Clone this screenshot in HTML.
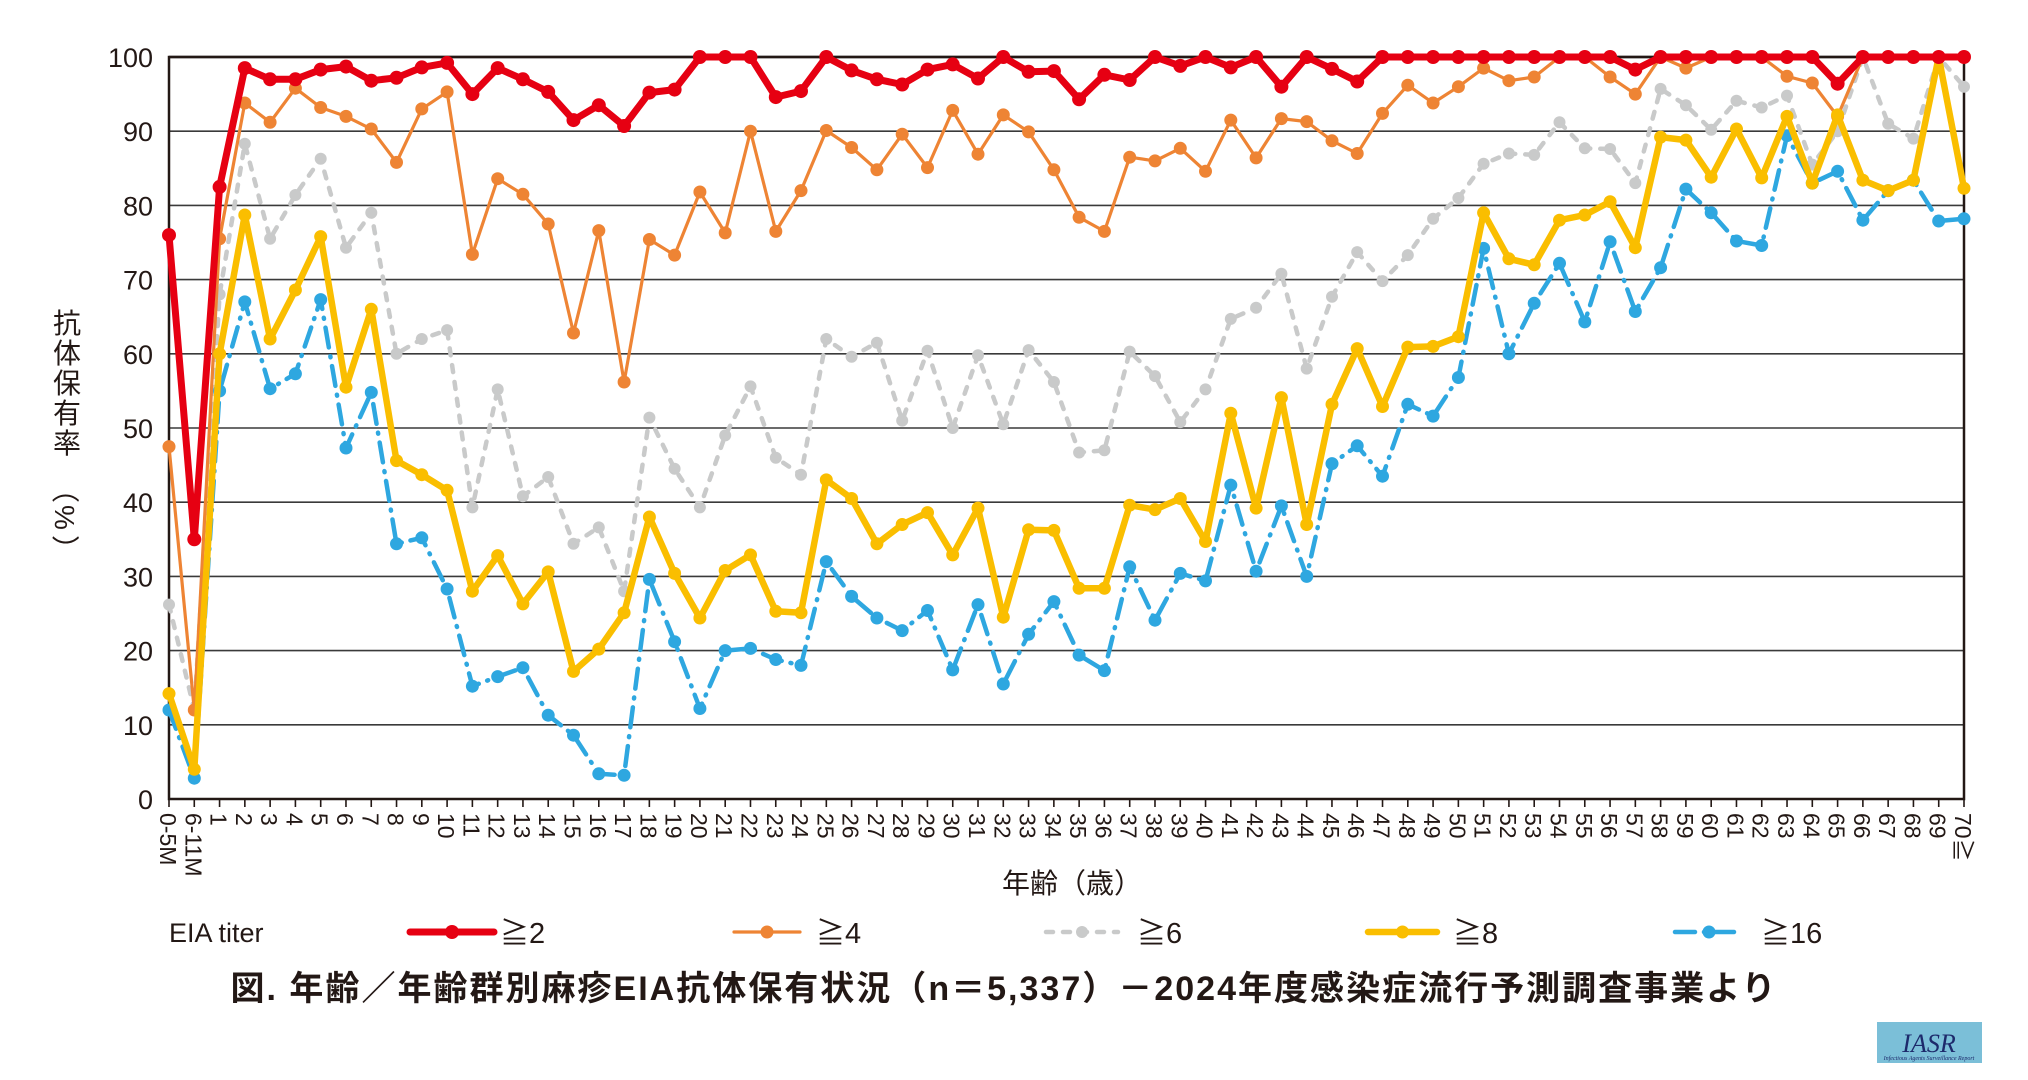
<!DOCTYPE html>
<html><head><meta charset="utf-8"><style>
html,body{margin:0;padding:0;background:#fff;}
svg{display:block;font-family:"Liberation Sans","Noto Sans CJK JP",sans-serif;}
</style></head><body>
<svg id="s" width="2028" height="1080" viewBox="0 0 2028 1080" xmlns="http://www.w3.org/2000/svg"></svg>
<script>
const S=document.getElementById('s');
const L=169,R=1964,T=57,B=799;
const N=72,dx=(R-L)/(N-1);
const X=i=>L+i*dx, Y=v=>B-(B-T)*v/100;
let h='';
// grid
for(let v=10;v<=100;v+=10){h+=`<line x1="${L}" x2="${R}" y1="${Y(v)}" y2="${Y(v)}" stroke="#3a3a3a" stroke-width="${v==100?2.5:1.6}"/>`;}
for(let v=0;v<=100;v+=10){h+=`<text x="153" y="${Y(v)+10}" font-size="27" text-anchor="end" fill="#231815">${v}</text>`;}
h+=`<rect x="${L}" y="${T}" width="${R-L}" height="${B-T}" fill="none" stroke="#231815" stroke-width="2.5"/>`;
const labs=['0-5M','6-11M'];for(let i=1;i<=70;i++)labs.push(i==70?'70≧':String(i));
for(let i=0;i<N;i++){const x=X(i);h+=`<line x1="${x}" x2="${x}" y1="${B}" y2="${B+8}" stroke="#231815" stroke-width="1.6"/>`;
h+=`<text transform="translate(${x-9},${B+14}) rotate(90)" font-size="23" fill="#231815">${labs[i]}</text>`;}
const d={
red:[76,35,82.5,98.5,97,97,98.3,98.7,96.8,97.2,98.6,99.2,95,98.5,97,95.3,91.5,93.5,90.7,95.2,95.6,100,100,100,94.6,95.4,100,98.2,97,96.3,98.3,99,97.1,100,98,98.1,94.3,97.6,96.9,100,98.8,100,98.6,100,96,100,98.4,96.7,100,100,100,100,100,100,100,100,100,100,98.3,100,100,100,100,100,100,100,96.4,100,100,100,100,100],
org:[47.5,12,75.5,93.8,91.2,95.8,93.2,92,90.3,85.8,93,95.3,73.4,83.6,81.5,77.5,62.8,76.6,56.2,75.4,73.3,81.8,76.3,90,76.5,82,90.1,87.8,84.8,89.6,85.1,92.8,86.9,92.2,89.9,84.8,78.4,76.5,86.5,86,87.7,84.6,91.5,86.4,91.7,91.3,88.7,87,92.4,96.2,93.8,96,98.5,96.8,97.3,100,100,97.3,95,100,98.5,100,100,100,97.4,96.5,92,100,100,100,100,100],
gry:[26.2,12,68,88.3,75.5,81.4,86.3,74.3,79,60,62,63.2,39.3,55.2,40.8,43.4,34.4,36.6,28,51.4,44.5,39.3,49,55.6,46,43.7,62,59.6,61.5,51,60.4,50,59.8,50.5,60.5,56.2,46.7,47,60.3,57,50.8,55.2,64.7,66.2,70.8,58,67.7,73.7,69.8,73.3,78.2,81,85.6,87,86.8,91.2,87.7,87.6,83,95.7,93.5,90.2,94.1,93.2,94.8,85.5,90,100,91,89,100,96],
yel:[14.2,4,60,78.7,62,68.6,75.8,55.5,66,45.6,43.7,41.6,28,32.8,26.3,30.6,17.2,20.2,25.1,38,30.4,24.4,30.8,32.9,25.3,25.1,43,40.5,34.4,37,38.6,32.9,39.2,24.5,36.3,36.2,28.4,28.4,39.6,39,40.5,34.7,52,39.2,54.1,37,53.2,60.7,52.9,60.9,61,62.3,79,72.8,72,78,78.7,80.5,74.3,89.2,88.8,83.8,90.3,83.7,92,83,92.2,83.4,82,83.4,100,82.3],
blu:[12,2.8,55,67,55.3,57.3,67.3,47.3,54.8,34.4,35.2,28.3,15.2,16.5,17.7,11.3,8.6,3.4,3.2,29.6,21.2,12.2,20,20.3,18.8,18,32,27.3,24.4,22.7,25.4,17.4,26.2,15.5,22.2,26.6,19.4,17.3,31.3,24.1,30.4,29.4,42.3,30.7,39.5,30,45.2,47.6,43.5,53.2,51.6,56.8,74.2,60,66.8,72.2,64.3,75.1,65.7,71.6,82.2,79,75.2,74.6,89.4,83,84.6,78,82,83.4,77.9,78.2]};
const st={
gry:{c:'#c9caca',w:4.5,r:6,da:'7 10'},
blu:{c:'#2ea7e0',w:4.5,r:6.5,da:'20 9 1 9'},
org:{c:'#ee8434',w:3.2,r:6.5,da:''},
yel:{c:'#fabe00',w:6.5,r:6.5,da:''},
red:{c:'#e60012',w:7,r:7,da:''}};
for(const k of ['gry','blu','org','yel','red']){const s=st[k],a=d[k];
h+=`<polyline fill="none" stroke="${s.c}" stroke-width="${s.w}" stroke-linejoin="round" stroke-linecap="round" ${s.da?`stroke-dasharray="${s.da}"`:''} points="${a.map((v,i)=>X(i).toFixed(1)+','+Y(v).toFixed(1)).join(' ')}"/>`;
a.forEach((v,i)=>h+=`<circle cx="${X(i).toFixed(1)}" cy="${Y(v).toFixed(1)}" r="${s.r}" fill="${s.c}"/>`);}
// axis titles
h+=`<text x="1072" y="893" font-size="28" text-anchor="middle" fill="#231815">年齢（歳）</text>`;
const yl='抗体保有率（%）'.split('');
yl.forEach((c,i)=>{const y=333+i*30; if(c=='（'||c=='）'||c=='%')h+=`<text transform="translate(55,${y-8}) rotate(90)" font-size="28" fill="#231815">${c}</text>`;else h+=`<text x="67" y="${y}" font-size="28" text-anchor="middle" fill="#231815">${c}</text>`;});
// legend
const ly=932;
h+=`<text x="169" y="${ly+10}" font-size="27" fill="#231815">EIA titer</text>`;
const leg=[['red',410,494,500,'≧2'],['org',734,800,816,'≧4'],['gry',1046,1118,1137,'≧6'],['yel',1368,1437,1453,'≧8'],['blu',1675,1743,1761,'≧16']];
for(const [k,x1,x2,tx,t] of leg){const s=st[k];
h+=`<line x1="${x1}" x2="${x2}" y1="${ly}" y2="${ly}" stroke="${s.c}" stroke-width="${s.w}" stroke-linecap="round" ${s.da?`stroke-dasharray="${s.da}"`:''}/>`;
h+=`<circle cx="${(x1+x2)/2}" cy="${ly}" r="${s.r}" fill="${s.c}"/>`;
h+=`<text x="${tx}" y="${ly+11}" font-size="29" fill="#231815">${t}</text>`;}
h+=`<text x="1003" y="1000" font-size="34" font-weight="bold" text-anchor="middle" fill="#231815" textLength="1545">図. 年齢／年齢群別麻疹EIA抗体保有状況（n＝5,337）－2024年度感染症流行予測調査事業より</text>`;
// logo
h+=`<rect x="1877" y="1022" width="105" height="41" fill="#7bbfd8"/><text x="1929" y="1052" font-size="26" font-style="italic" text-anchor="middle" fill="#1d2a6b" font-family="Liberation Serif,serif">IASR</text><text x="1929" y="1060" font-size="6" font-style="italic" text-anchor="middle" fill="#1d2a6b" font-family="Liberation Serif,serif">Infectious Agents Surveillance Report</text>`;
S.innerHTML=h;
</script>
</body></html>
